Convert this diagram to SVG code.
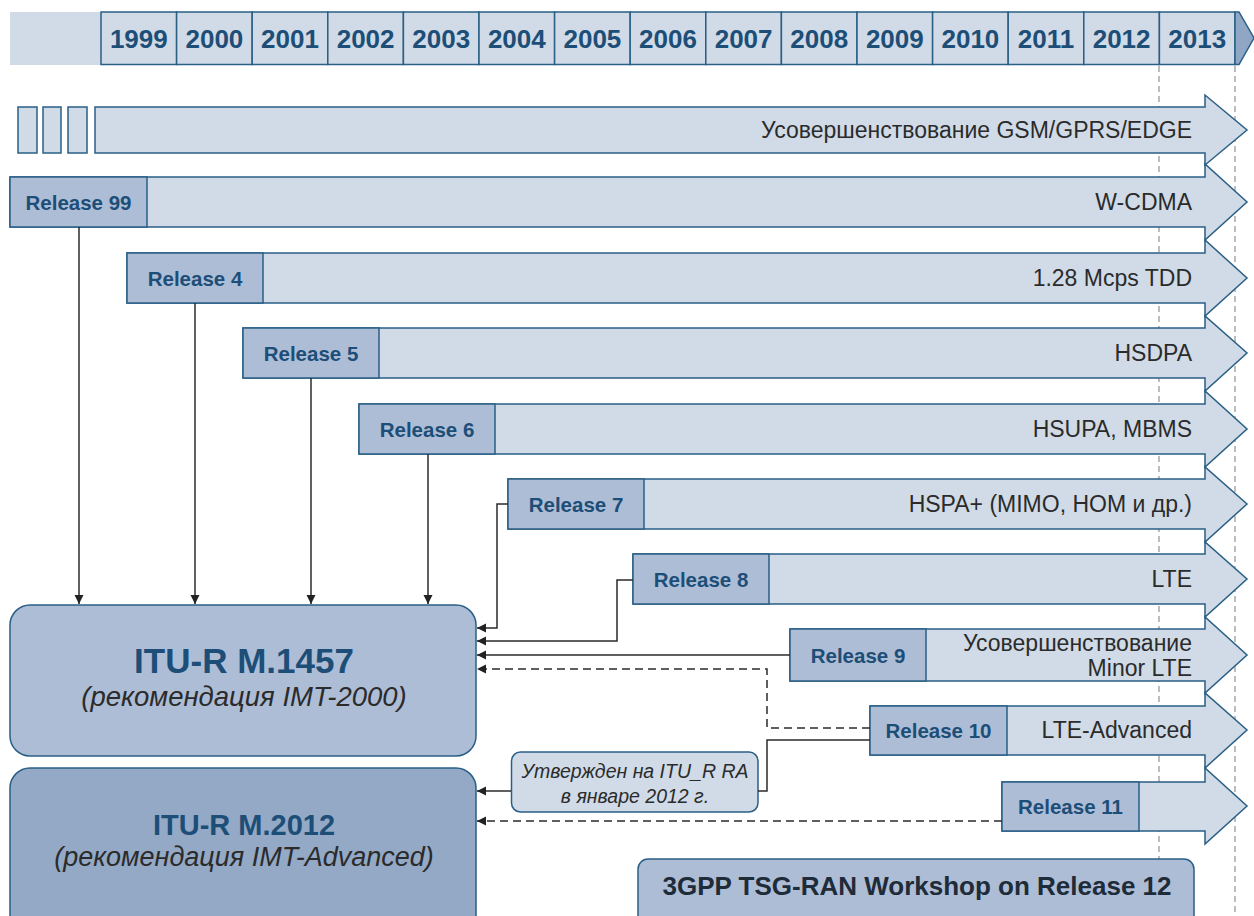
<svg xmlns="http://www.w3.org/2000/svg" width="1254" height="916" viewBox="0 0 1254 916">
<style>
.cell{fill:#d0dbe7;stroke:#2a5f86;stroke-width:1.5}
.year{font-family:"Liberation Sans",Arial,sans-serif;font-weight:bold;font-size:26px;fill:#1d4e77;text-anchor:middle}
.band{fill:#d0dbe7;stroke:#2a5f86;stroke-width:1.5;stroke-linejoin:miter}
.rel{fill:#adbdd6;stroke:#2a5f86;stroke-width:1.5}
.rt{font-family:"Liberation Sans",Arial,sans-serif;font-weight:bold;font-size:20.5px;fill:#1d4e77;text-anchor:middle}
.bt{font-family:"Liberation Sans",Arial,sans-serif;font-size:23px;fill:#2b2b2b;text-anchor:end}
.guide{stroke:#9a9a9a;stroke-width:1.3;stroke-dasharray:6 4;fill:none}
.con{stroke:#2b2b2b;stroke-width:1.5;fill:none}
.dash{stroke:#2b2b2b;stroke-width:1.5;fill:none;stroke-dasharray:8 5}
.it{font-family:"Liberation Sans",Arial,sans-serif;font-style:italic;fill:#2b2b2b;text-anchor:middle}
.ttl{font-family:"Liberation Sans",Arial,sans-serif;font-weight:bold;fill:#1d4e77;text-anchor:middle}
</style>
<defs>
<marker id="ah" markerUnits="userSpaceOnUse" markerWidth="10" markerHeight="10" refX="9" refY="4.5" orient="auto">
<path d="M0,0 L9,4.5 L0,9 z" fill="#222"/>
</marker>
</defs>

<g id="timeline">
<rect x="10" y="12" width="91" height="53" fill="#d0dbe7"/>
<rect class="cell" x="101" y="12" width="75.6" height="52.5"/>
<rect class="cell" x="176.6" y="12" width="75.6" height="52.5"/>
<rect class="cell" x="252.2" y="12" width="75.6" height="52.5"/>
<rect class="cell" x="327.8" y="12" width="75.6" height="52.5"/>
<rect class="cell" x="403.4" y="12" width="75.6" height="52.5"/>
<rect class="cell" x="479" y="12" width="75.6" height="52.5"/>
<rect class="cell" x="554.6" y="12" width="75.6" height="52.5"/>
<rect class="cell" x="630.2" y="12" width="75.6" height="52.5"/>
<rect class="cell" x="705.8" y="12" width="75.6" height="52.5"/>
<rect class="cell" x="781.4" y="12" width="75.6" height="52.5"/>
<rect class="cell" x="857" y="12" width="75.6" height="52.5"/>
<rect class="cell" x="932.6" y="12" width="75.6" height="52.5"/>
<rect class="cell" x="1008.2" y="12" width="75.6" height="52.5"/>
<rect class="cell" x="1083.8" y="12" width="75.6" height="52.5"/>
<rect class="cell" x="1159.4" y="12" width="75.6" height="52.5"/>
<polygon points="1235,12 1239,12 1254,38 1239,64.5 1235,64.5" fill="#8fa6c4" stroke="#2a5f86" stroke-width="1.5"/>
<text class="year" x="138.8" y="48">1999</text>
<text class="year" x="214.4" y="48">2000</text>
<text class="year" x="290" y="48">2001</text>
<text class="year" x="365.6" y="48">2002</text>
<text class="year" x="441.2" y="48">2003</text>
<text class="year" x="516.8" y="48">2004</text>
<text class="year" x="592.4" y="48">2005</text>
<text class="year" x="668" y="48">2006</text>
<text class="year" x="743.6" y="48">2007</text>
<text class="year" x="819.2" y="48">2008</text>
<text class="year" x="894.8" y="48">2009</text>
<text class="year" x="970.4" y="48">2010</text>
<text class="year" x="1046" y="48">2011</text>
<text class="year" x="1121.6" y="48">2012</text>
<text class="year" x="1197.2" y="48">2013</text>
</g>

<g id="guides">
<line class="guide" x1="1159" y1="66" x2="1159" y2="916"/>
<line class="guide" x1="1235" y1="66" x2="1235" y2="916"/>
</g>

<g id="gsm">
<rect class="cell" x="18" y="107" width="19" height="46"/>
<rect class="cell" x="43" y="107" width="18" height="46"/>
<rect class="cell" x="68" y="107" width="19" height="46"/>
<polygon class="band" points="95,107 1205,107 1205,95 1247,130 1205,165 1205,153 95,153"/>
<text class="bt" x="1192" y="138">Усовершенствование GSM/GPRS/EDGE</text>
</g>

<g id="rel99">
<polygon class="band" points="10,177 1205,177 1205,164 1247,202 1205,240 1205,227 10,227"/>
<rect class="rel" x="10" y="177" width="137" height="50"/>
<text class="rt" x="78.5" y="210">Release 99</text>
<text class="bt" x="1192" y="210">W-CDMA</text>
</g>

<g id="rel4">
<polygon class="band" points="127,253 1205,253 1205,240 1247,278 1205,316 1205,303 127,303"/>
<rect class="rel" x="127" y="253" width="136" height="50"/>
<text class="rt" x="195" y="286">Release 4</text>
<text class="bt" x="1192" y="286">1.28 Mcps TDD</text>
</g>

<g id="rel5">
<polygon class="band" points="243,328 1205,328 1205,316 1247,353 1205,391 1205,378 243,378"/>
<rect class="rel" x="243" y="328" width="136" height="50"/>
<text class="rt" x="311" y="361">Release 5</text>
<text class="bt" x="1192" y="361">HSDPA</text>
</g>

<g id="rel6">
<polygon class="band" points="359,404 1205,404 1205,391 1247,429 1205,467 1205,454 359,454"/>
<rect class="rel" x="359" y="404" width="136" height="50"/>
<text class="rt" x="427" y="437">Release 6</text>
<text class="bt" x="1192" y="437">HSUPA, MBMS</text>
</g>

<g id="rel7">
<polygon class="band" points="508,479 1205,479 1205,467 1247,504 1205,542 1205,529 508,529"/>
<rect class="rel" x="508" y="479" width="136" height="50"/>
<text class="rt" x="576" y="512">Release 7</text>
<text class="bt" x="1192" y="512">HSPA+ (MIMO, HOM и др.)</text>
</g>

<g id="rel8">
<polygon class="band" points="633,554 1205,554 1205,542 1247,579 1205,617 1205,604 633,604"/>
<rect class="rel" x="633" y="554" width="136" height="50"/>
<text class="rt" x="701" y="587">Release 8</text>
<text class="bt" x="1192" y="587">LTE</text>
</g>

<g id="rel9">
<polygon class="band" points="790,629 1205,629 1205,617 1247,655 1205,693 1205,681 790,681"/>
<rect class="rel" x="790" y="629" width="136" height="52"/>
<text class="rt" x="858" y="663">Release 9</text>
<text class="bt" x="1192" y="651" font-size="21.5">Усовершенствование</text>
<text class="bt" x="1192" y="676" font-size="21.5">Minor LTE</text>
</g>

<g id="rel10">
<polygon class="band" points="870,706 1205,706 1205,693 1247,730 1205,768 1205,755 870,755"/>
<rect class="rel" x="870" y="706" width="137" height="49"/>
<text class="rt" x="938.5" y="738">Release 10</text>
<text class="bt" x="1192" y="738">LTE-Advanced</text>
</g>

<g id="rel11">
<polygon class="band" points="1002,782 1205,782 1205,768 1247,806 1205,844 1205,831 1002,831"/>
<rect class="rel" x="1002" y="782" width="137" height="49"/>
<text class="rt" x="1070.5" y="814">Release 11</text>
</g>

<g id="itu1457">
<rect x="10" y="605" width="466" height="151" rx="20" fill="#adbdd6" stroke="#2a5f86" stroke-width="1.5"/>
<text class="ttl" x="244" y="673" font-size="35">ITU-R M.1457</text>
<text class="it" x="244" y="706" font-size="27.5">(рекомендация IMT-2000)</text>
</g>

<g id="itu2012">
<rect x="10" y="768" width="466" height="170" rx="20" fill="#93a9c6" stroke="#2a5f86" stroke-width="1.5"/>
<text class="ttl" x="244" y="835" font-size="29">ITU-R M.2012</text>
<text class="it" x="244" y="866" font-size="27">(рекомендация IMT-Advanced)</text>
</g>

<g id="note">
<rect x="511.5" y="752" width="246.5" height="60" rx="9" fill="#d0dbe7" stroke="#2a5f86" stroke-width="1.5"/>
<text class="it" x="635" y="778" font-size="19.5">Утвержден на ITU_R RA</text>
<text class="it" x="635" y="803" font-size="19.5">в январе 2012 г.</text>
</g>

<g id="workshop">
<rect x="638" y="859" width="556" height="70" rx="10" fill="#adbdd6" stroke="#2a5f86" stroke-width="1.5"/>
<text x="917" y="895" font-family="Liberation Sans, Arial, sans-serif" font-weight="bold" font-size="26" fill="#1e2b38" text-anchor="middle">3GPP TSG-RAN Workshop on Release 12</text>
</g>

<g id="connectors">
<line class="con" x1="79" y1="227" x2="79" y2="604" marker-end="url(#ah)"/>
<line class="con" x1="195" y1="303" x2="195" y2="604" marker-end="url(#ah)"/>
<line class="con" x1="311" y1="378" x2="311" y2="604" marker-end="url(#ah)"/>
<line class="con" x1="428" y1="454" x2="428" y2="604" marker-end="url(#ah)"/>
<polyline class="con" points="508,504 497,504 497,628 477,628" marker-end="url(#ah)"/>
<polyline class="con" points="633,580 617,580 617,641 477,641" marker-end="url(#ah)"/>
<polyline class="con" points="790,655 477,655" marker-end="url(#ah)"/>
<polyline class="dash" points="870,728 767,728 767,669 477,669" marker-end="url(#ah)"/>
<polyline class="con" points="870,740 767,740 767,791 758,791"/>
<polyline class="con" points="511,791 477,791" marker-end="url(#ah)"/>
<polyline class="dash" points="1002,821 477,821" marker-end="url(#ah)"/>
</g>
</svg>
